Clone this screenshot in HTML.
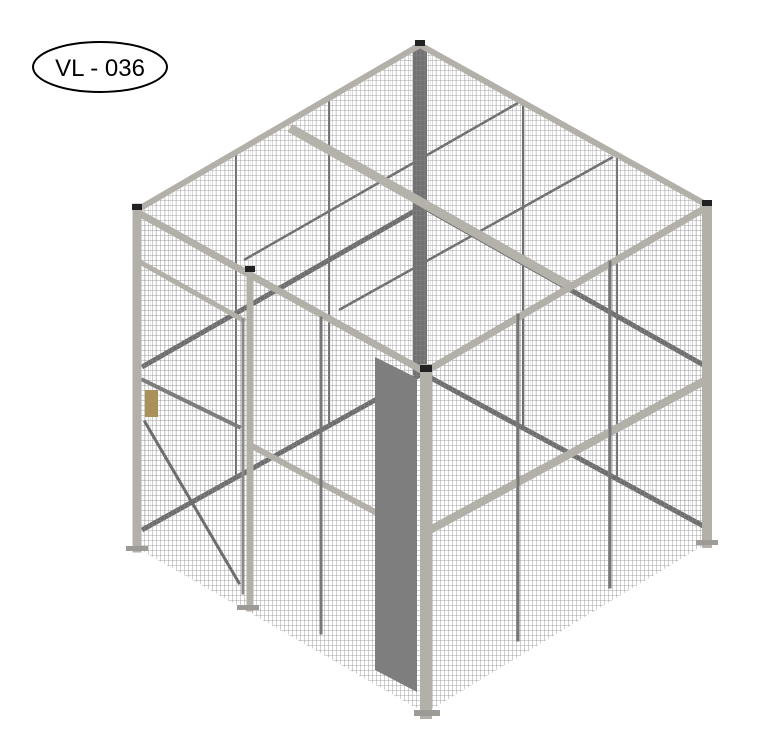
<!DOCTYPE html>
<html><head><meta charset="utf-8"><style>
html,body{margin:0;padding:0;background:#fff;}
svg{display:block;}
text{font-family:"Liberation Sans",sans-serif;}
</style></head><body>
<svg width="772" height="741" viewBox="0 0 772 741">
<defs>
<pattern id="mesh" width="4" height="5" patternUnits="userSpaceOnUse">
<path d="M0 0H4M0 0V5" stroke="#8a8a8a" stroke-width="0.8" fill="none"/>
</pattern>
<pattern id="mesh2" width="5" height="5" patternUnits="userSpaceOnUse">
<path d="M0 0H5M0 0V5" stroke="#999" stroke-width="0.6" fill="none"/>
</pattern>
</defs>
<g>
<ellipse cx="100" cy="67" rx="67" ry="25" fill="#fff" stroke="#000" stroke-width="2"/>
<text x="100" y="76" font-size="24" text-anchor="middle" fill="#000">VL - 036</text>
</g>
<g opacity="0.6">
<polygon points="420,45 137,210 140,535 420,372" fill="url(#mesh2)"/>
<polygon points="420,45 707,205 707,535 420,372" fill="url(#mesh2)"/>
</g>
<g stroke="#6e6e6e">
<line x1="420" y1="208" x2="142" y2="367" stroke-width="5"/>
<line x1="420" y1="205" x2="707" y2="367" stroke-width="5"/>
<line x1="420" y1="375" x2="142" y2="530" stroke-width="5"/>
<line x1="420" y1="372" x2="707" y2="528" stroke-width="5"/>
<line x1="518" y1="103" x2="244" y2="260" stroke-width="2.5"/>
<line x1="613" y1="157" x2="339" y2="310" stroke-width="2.5"/>
<line x1="236" y1="152" x2="236" y2="479" stroke-width="2"/>
<line x1="329" y1="98" x2="329" y2="426" stroke-width="2"/>
<line x1="523" y1="102" x2="523" y2="430" stroke-width="2"/>
<line x1="617" y1="155" x2="617" y2="482" stroke-width="2"/>
</g>
<rect x="413" y="45" width="14" height="330" fill="#727272"/>
<g>
<polygon points="420,45 137,210 425,370 707,205" fill="url(#mesh)" opacity="0.85"/>
</g>
<g>
<polygon points="137,210 425,370 425,713 137,548" fill="url(#mesh)"/>
<polygon points="425,370 707,205 707,543 425,713" fill="url(#mesh)"/>
</g>
<g stroke="#b5b2ac" stroke-width="9">
<line x1="290" y1="128" x2="573" y2="288"/>
</g>
<g stroke="#b3b0aa" stroke-linecap="square">
<line x1="420" y1="45" x2="137" y2="210" stroke-width="6"/>
<line x1="420" y1="45" x2="707" y2="205" stroke-width="6"/>
<line x1="137" y1="212" x2="425" y2="372" stroke-width="7"/>
<line x1="425" y1="372" x2="707" y2="207" stroke-width="7"/>
<line x1="430" y1="530" x2="706" y2="380" stroke-width="8"/>
<line x1="250" y1="445" x2="375" y2="512" stroke-width="6"/>
<line x1="140" y1="262" x2="243" y2="320" stroke-width="5"/>
<line x1="143" y1="380" x2="239" y2="427" stroke-width="4" stroke="#7d7d7d"/>
<line x1="145" y1="422" x2="239" y2="583" stroke-width="3" stroke="#6e6e6e"/>
<line x1="518" y1="315" x2="518" y2="640" stroke-width="3" stroke="#777"/>
<line x1="610" y1="262" x2="610" y2="587" stroke-width="3" stroke="#777"/>
<line x1="321" y1="318" x2="321" y2="633" stroke-width="3" stroke="#777"/>
<line x1="243" y1="320" x2="243" y2="593" stroke-width="3" stroke="#8a8a8a"/>
<line x1="250" y1="270" x2="250" y2="608" stroke-width="7"/>
<line x1="137" y1="208" x2="137" y2="548" stroke-width="9"/>
<line x1="707" y1="205" x2="707" y2="543" stroke-width="10"/>
<line x1="426" y1="370" x2="426" y2="713" stroke-width="12"/>
</g>
<polygon points="375,357 417,378 417,692 375,670" fill="#7e7e7e"/>
<rect x="145" y="390" width="13" height="27" fill="#a8925a"/>
<g fill="#222">
<rect x="415" y="40" width="10" height="6"/>
<rect x="132" y="204" width="10" height="6"/>
<rect x="702" y="200" width="10" height="6"/>
<rect x="245" y="266" width="10" height="6"/>
<rect x="420" y="365" width="12" height="7"/>
</g>
<g fill="#9e9b96">
<rect x="126" y="546" width="22" height="5"/>
<rect x="237" y="605" width="22" height="5"/>
<rect x="414" y="710" width="26" height="6"/>
<rect x="696" y="540" width="22" height="5"/>
</g>
</svg>
</body></html>
